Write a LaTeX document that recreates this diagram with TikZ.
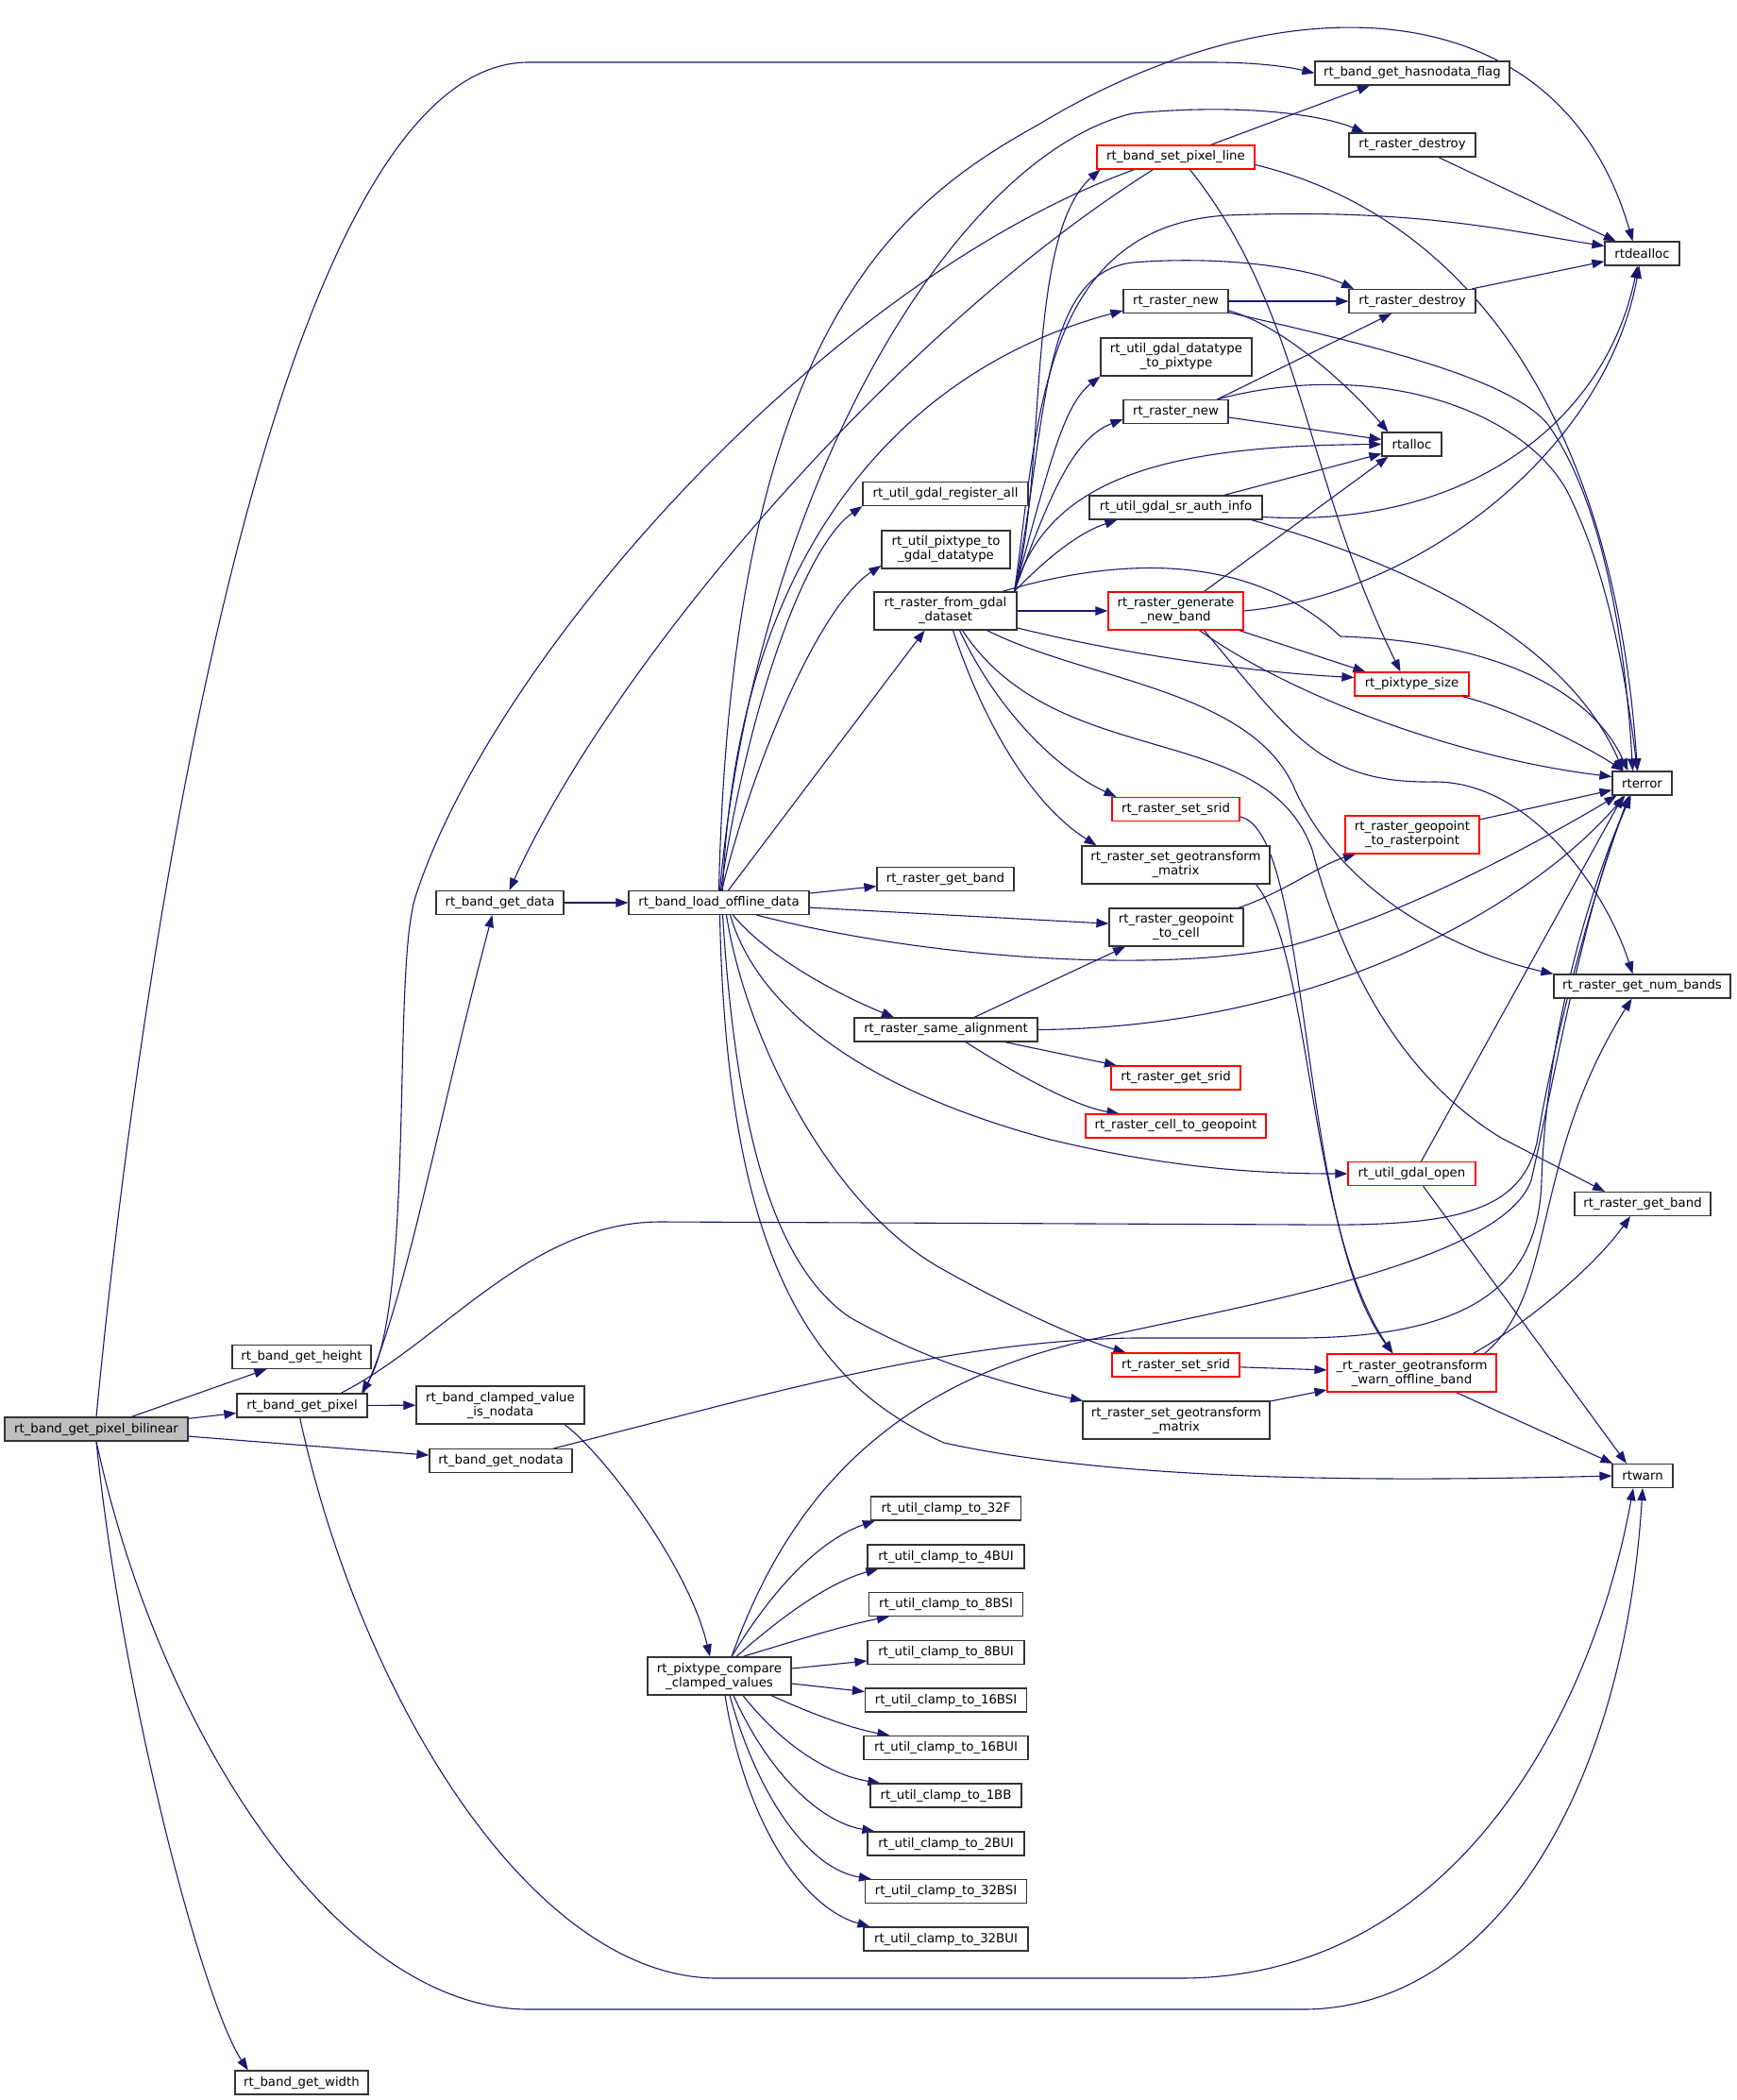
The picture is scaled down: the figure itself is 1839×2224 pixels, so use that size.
\documentclass[tikz,border=0pt]{standalone}
\usepackage{fontspec}
\setmainfont{DejaVu Sans}
\usetikzlibrary{arrows.meta,backgrounds}
\definecolor{edgeblue}{HTML}{191970}
\definecolor{rootgray}{HTML}{BFBFBF}
\tikzset{
  fn/.style={draw=black!80, line width=1.2pt, fill=white, inner sep=0pt,
    minimum height=25pt, align=center, font=\fontsize{13.3pt}{15pt}\selectfont},
  fntwo/.style={fn, minimum height=40pt},
  trunc/.style={draw=red},
  boxw/.style={minimum width=#1pt},
  call/.style={edgeblue, line width=1.1pt, -{Triangle[length=13pt,width=9.5pt]}},
}
\begin{document}
\begin{tikzpicture}[x=1pt,y=-1pt]
    \useasboundingbox (0,0) rectangle (1839,2224);
    %% first columns
    \node[fn, boxw=194, fill=rootgray] (bilin) at (102,1513.5) {rt\_band\_get\_pixel\_bilinear};
    \node[fn, boxw=147] (height) at (319.5,1437) {rt\_band\_get\_height};
    \node[fn, boxw=138] (pixel) at (320,1488.5) {rt\_band\_get\_pixel};
    \node[fn, boxw=141] (width) at (319.5,2205.5) {rt\_band\_get\_width};
    \node[fn, boxw=135] (getdata) at (529.5,956) {rt\_band\_get\_data};
    \node[fntwo, boxw=178] (clampnd) at (530,1488) {rt\_band\_clamped\_value\\\_is\_nodata};
    \node[fn, boxw=151] (nodata) at (530.5,1547) {rt\_band\_get\_nodata};
    \node[fn, boxw=191] (loadoff) at (761.5,956) {rt\_band\_load\_offline\_data};
    \node[fntwo, boxw=152] (compare) at (762,1775) {rt\_pixtype\_compare\\\_clamped\_values};
    %% middle column
    \node[fn, boxw=175] (regall) at (1001.5,523) {rt\_util\_gdal\_register\_all};
    \node[fntwo, boxw=136] (pix2gdal) at (1002,582) {rt\_util\_pixtype\_to\\\_gdal\_datatype};
    \node[fntwo, boxw=151] (fromgdal) at (1001.5,647) {rt\_raster\_from\_gdal\\\_dataset};
    \node[fn, boxw=145] (getbandA) at (1001.5,931) {rt\_raster\_get\_band};
    \node[fn, boxw=194] (samealign) at (1002,1090.5) {rt\_raster\_same\_alignment};
    \node[fn, boxw=159] (c32F) at (1002,1597.5) {rt\_util\_clamp\_to\_32F};
    \node[fn, boxw=166] (c4BUI) at (1002,1648.5) {rt\_util\_clamp\_to\_4BUI};
    \node[fn, boxw=163] (c8BSI) at (1002,1699) {rt\_util\_clamp\_to\_8BSI};
    \node[fn, boxw=166] (c8BUI) at (1002,1750) {rt\_util\_clamp\_to\_8BUI};
    \node[fn, boxw=171] (c16BSI) at (1002,1800.5) {rt\_util\_clamp\_to\_16BSI};
    \node[fn, boxw=174] (c16BUI) at (1002,1851) {rt\_util\_clamp\_to\_16BUI};
    \node[fn, boxw=160] (c1BB) at (1002,1901.5) {rt\_util\_clamp\_to\_1BB};
    \node[fn, boxw=166] (c2BUI) at (1002,1952.5) {rt\_util\_clamp\_to\_2BUI};
    \node[fn, boxw=171] (c32BSI) at (1002,2003) {rt\_util\_clamp\_to\_32BSI};
    \node[fn, boxw=174] (c32BUI) at (1002,2053.5) {rt\_util\_clamp\_to\_32BUI};
    %% raster column
    \node[fn, trunc, boxw=167] (setpix) at (1245.5,166.5) {rt\_band\_set\_pixel\_line};
    \node[fn, boxw=111] (newA) at (1245.5,319) {rt\_raster\_new};
    \node[fntwo, boxw=160] (gdal2pix) at (1246,378) {rt\_util\_gdal\_datatype\\\_to\_pixtype};
    \node[fn, boxw=111] (newB) at (1245.5,436) {rt\_raster\_new};
    \node[fn, boxw=183] (srauth) at (1245.5,537.5) {rt\_util\_gdal\_sr\_auth\_info};
    \node[fntwo, trunc, boxw=143] (genband) at (1245.5,647) {rt\_raster\_generate\\\_new\_band};
    \node[fn, trunc, boxw=135] (sridA) at (1245.5,857) {rt\_raster\_set\_srid};
    \node[fntwo, boxw=199] (geotrA) at (1245.5,916) {rt\_raster\_set\_geotransform\\\_matrix};
    \node[fntwo, boxw=142] (geo2cell) at (1246,982) {rt\_raster\_geopoint\\\_to\_cell};
    \node[fn, trunc, boxw=137] (getsrid) at (1245.5,1141.5) {rt\_raster\_get\_srid};
    \node[fn, trunc, boxw=191] (cell2geo) at (1245.5,1192.5) {rt\_raster\_cell\_to\_geopoint};
    \node[fn, trunc, boxw=135] (sridB) at (1245.5,1445.5) {rt\_raster\_set\_srid};
    \node[fntwo, boxw=198] (geotrB) at (1246,1504) {rt\_raster\_set\_geotransform\\\_matrix};
    %% right columns
    \node[fn, boxw=206] (hasnd) at (1496,77.5) {rt\_band\_get\_hasnodata\_flag};
    \node[fn, boxw=134] (destroyA) at (1496,153.5) {rt\_raster\_destroy};
    \node[fn, boxw=134] (destroyB) at (1496,319) {rt\_raster\_destroy};
    \node[fn, boxw=63] (rtalloc) at (1495.5,470.5) {rtalloc};
    \node[fn, trunc, boxw=121] (pixsize) at (1495.5,724.5) {rt\_pixtype\_size};
    \node[fntwo, trunc, boxw=142] (geo2rp) at (1496,884) {rt\_raster\_geopoint\\\_to\_rasterpoint};
    \node[fn, trunc, boxw=135] (gdalopen) at (1495.5,1243) {rt\_util\_gdal\_open};
    \node[fntwo, trunc, boxw=179] (warnoff) at (1495.5,1454) {\_rt\_raster\_geotransform\\\_warn\_offline\_band};
    \node[fn, boxw=79] (rtdealloc) at (1739.5,268.5) {rtdealloc};
    \node[fn, boxw=63] (rterror) at (1739.5,829.5) {rterror};
    \node[fn, boxw=187] (numbands) at (1739.5,1044.5) {rt\_raster\_get\_num\_bands};
    \node[fn, boxw=144] (getbandB) at (1740,1275) {rt\_raster\_get\_band};
    \node[fn, boxw=64] (rtwarn) at (1740,1563) {rtwarn};

    \begin{scope}[on background layer]
    %% bilinear
    \draw[call] (bilin.north) .. controls (150,1000) and (290,66) .. (560,66) -- (1280,66) .. controls (1340,66) and (1370,72) .. (hasnd.west);
    \draw[call] (bilin) -- (height);
    \draw[call] (bilin) -- (pixel);
    \draw[call] (bilin) -- (nodata);
    \draw[call] (bilin.south) .. controls (130,1800) and (215,2120) .. (width.167);
    \draw[call] (bilin.south) .. controls (170,1840) and (360,2128) .. (560,2128) -- (1380,2128) .. controls (1580,2128) and (1720,1900) .. (rtwarn.south);
    %% get_pixel
    \draw[call] (pixel) -- (clampnd);
    \draw[call] ([xshift=65pt]pixel.north) .. controls (430,1380) and (465,1180) .. ([xshift=-8pt]getdata.south);
    \draw[call] ([xshift=41pt]pixel.north) .. controls (470,1420) and (560,1294) .. (700,1294) -- (1380,1297) .. controls (1540,1299) and (1610,1285) .. (1628,1210) .. controls (1650,1080) and (1690,940) .. ([xshift=-14pt]rterror.south);
    \draw[call] (pixel.260) .. controls (380,1790) and (560,2095) .. (760,2095) -- (1250,2095) .. controls (1550,2095) and (1690,1800) .. ([xshift=-10pt]rtwarn.south);
    %% set_pixel_line
    \draw[call] ([xshift=-44pt]setpix.south) .. controls (870,300) and (520,700) .. (440,950) .. controls (415,1030) and (440,1380) .. ([xshift=63pt]pixel.north);
    \draw[call] ([xshift=-24pt]setpix.south) .. controls (950,350) and (650,700) .. ([xshift=10pt]getdata.north);
    \draw[call] ([xshift=37pt]setpix.north) -- ([xshift=-45pt]hasnd.south);
    \draw[call] ([xshift=15pt]setpix.south) .. controls (1380,330) and (1380,500) .. ([xshift=-12pt]pixsize.north);
    \draw[call] ([yshift=-8pt]setpix.east) .. controls (1560,230) and (1710,450) .. ([xshift=-5pt]rterror.north);
    %% load_offline_data
    \draw[call] (getdata) -- (loadoff);
    \draw[call] ([xshift=2pt]loadoff.north) .. controls (790,760) and (850,580) .. (regall.south west);
    \draw[call] ([xshift=3pt]loadoff.north) .. controls (800,800) and (870,640) .. ([yshift=-17pt]pix2gdal.west);
    \draw[call] ([xshift=10pt]loadoff.north) -- ([xshift=-22pt]fromgdal.south);
    \draw[call] ([xshift=4pt]loadoff.north) .. controls (780,580) and (960,390) .. ([yshift=-10pt]newA.west);
    \draw[call] ([xshift=1pt]loadoff.north) .. controls (800,520) and (1010,165) .. (1200,120) .. controls (1330,108) and (1410,125) .. ([xshift=-51pt]destroyA.north);
    \draw[call] (loadoff.north) .. controls (775,350) and (950,215) .. (1100,132) .. controls (1350,-20) and (1650,-20) .. ([xshift=-10pt]rtdealloc.north);
    \draw[call] (loadoff) -- (getbandA);
    \draw[call] (loadoff) -- (geo2cell);
    \draw[call] ([xshift=40pt]loadoff.south) .. controls (1000,1020) and (1250,1030) .. (1369,1001) .. controls (1500,965) and (1650,880) .. ([xshift=-27pt]rterror.south);
    \draw[call] ([xshift=15pt]loadoff.south) .. controls (810,1010) and (880,1050) .. ([xshift=-55pt]samealign.north);
    \draw[call] ([xshift=12pt]loadoff.south) .. controls (800,1060) and (900,1150) .. (1113,1207) .. controls (1250,1240) and (1350,1243) .. (gdalopen.west);
    \draw[call] ([xshift=8pt]loadoff.south) .. controls (790,1100) and (880,1280) .. (1000,1345) .. controls (1080,1390) and (1150,1420) .. ([xshift=-53pt]sridB.north);
    \draw[call] ([xshift=4pt]loadoff.south) .. controls (780,1200) and (820,1340) .. (900,1395) .. controls (980,1440) and (1060,1465) .. ([xshift=-99pt]geotrB.north);
    \draw[call] ([xshift=1pt]loadoff.south) .. controls (770,1350) and (870,1470) .. (1000,1528) .. controls (1200,1572) and (1500,1568) .. (rtwarn.west);
    %% from_gdal_dataset
    \draw[call] (fromgdal) -- (genband);
    \draw[call] ([xshift=73pt]fromgdal.north) .. controls (1110,500) and (1085,250) .. ([xshift=-80pt]setpix.south);
    \draw[call] ([xshift=73pt]fromgdal.north) .. controls (1100,450) and (1100,240) .. (1300,228) .. controls (1500,220) and (1600,245) .. ([yshift=8pt]rtdealloc.west);
    \draw[call] ([xshift=73pt]fromgdal.north) .. controls (1110,450) and (1100,290) .. (1200,278) .. controls (1300,270) and (1390,285) .. ([xshift=-62pt]destroyB.north);
    \draw[call] ([xshift=73pt]fromgdal.north) .. controls (1110,500) and (1125,430) .. (gdal2pix.south west);
    \draw[call] ([xshift=73pt]fromgdal.north) .. controls (1110,530) and (1135,465) .. ([yshift=-8pt]newB.west);
    \draw[call] ([xshift=73pt]fromgdal.north) .. controls (1105,595) and (1140,565) .. ([xshift=30pt]srauth.south west);
    \draw[call] ([xshift=73pt]fromgdal.north) .. controls (1110,500) and (1250,472) .. (rtalloc.west);
    \draw[call] ([xshift=60pt]fromgdal.north) .. controls (1220,580) and (1340,600) .. (1420,674) .. controls (1600,680) and (1690,740) .. ([xshift=-15pt]rterror.north);
    \draw[call] ([yshift=-18pt]fromgdal.east) .. controls (1200,695) and (1330,712) .. ([yshift=7pt]pixsize.west);
    \draw[call] ([xshift=15pt]fromgdal.south) .. controls (1050,740) and (1110,810) .. ([xshift=-63pt]sridA.north);
    \draw[call] ([xshift=8pt]fromgdal.south) .. controls (1040,760) and (1090,850) .. ([xshift=-84pt]geotrA.north);
    \draw[call] ([xshift=44pt]fromgdal.south) .. controls (1150,720) and (1320,730) .. (1369,830) .. controls (1420,950) and (1550,1010) .. (numbands.north west);
    \draw[call] ([xshift=18pt]fromgdal.south) .. controls (1120,820) and (1340,760) .. (1390,900) .. controls (1430,1050) and (1500,1150) .. (1590,1205) -- ([xshift=-40pt]getbandB.north);
    %% raster_new, sr_auth_info, generate_new_band
    \draw[call] (newA) -- (destroyB);
    \draw[call] ([yshift=-10pt]newA.east) .. controls (1360,345) and (1430,410) .. ([xshift=-25pt]rtalloc.north);
    \draw[call] ([yshift=-12pt]newA.east) .. controls (1450,365) and (1600,400) .. (1640,450) .. controls (1690,520) and (1720,650) .. ([xshift=-10pt]rterror.north);
    \draw[call] ([xshift=44pt]newB.north) -- ([xshift=-22pt]destroyB.south);
    \draw[call] ([yshift=-6pt]newB.east) -- ([yshift=5pt]rtalloc.west);
    \draw[call] ([xshift=44pt]newB.north) .. controls (1450,380) and (1610,430) .. (1660,520) .. controls (1700,600) and (1720,700) .. ([xshift=-5pt]rterror.north);
    \draw[call] ([xshift=51pt]srauth.north) -- ([yshift=-10pt]rtalloc.west);
    \draw[call] ([yshift=-10pt]srauth.east) .. controls (1550,560) and (1700,450) .. ([xshift=-5pt]rtdealloc.south);
    \draw[call] ([xshift=80pt]srauth.south) .. controls (1500,600) and (1660,680) .. ([xshift=-20pt]rterror.north);
    \draw[call] ([xshift=30pt]genband.north) -- ([xshift=-25pt]rtalloc.south);
    \draw[call] (genband.east) .. controls (1500,630) and (1700,480) .. ([xshift=-3pt]rtdealloc.south);
    \draw[call] ([xshift=-5pt]genband.south east) -- ([xshift=12pt]pixsize.north west);
    \draw[call] ([xshift=25pt]genband.south) .. controls (1380,745) and (1560,805) .. ([yshift=7pt]rterror.west);
    \draw[call] ([xshift=30pt]genband.south) .. controls (1370,780) and (1400,830) .. (1520,828) .. controls (1620,828) and (1700,940) .. ([xshift=-10pt]numbands.north);
    \draw[call] (pixsize) .. controls (1600,750) and (1680,790) .. (rterror);
    \draw[call] (destroyA) -- (rtdealloc);
    \draw[call] (destroyB) -- (rtdealloc);
    %% geopoint, alignment
    \draw[call] ([xshift=66pt]geo2cell.north) .. controls (1360,945) and (1400,915) .. ([xshift=-60pt]geo2rp.south);
    \draw[call] (geo2rp) -- (rterror);
    \draw[call] (samealign) -- (getsrid);
    \draw[call] ([xshift=21pt]samealign.south) .. controls (1080,1140) and (1140,1172) .. ([xshift=-60pt]cell2geo.north);
    \draw[call] ([xshift=30pt]samealign.north) -- ([xshift=-54pt]geo2cell.south);
    \draw[call] (samealign.east) .. controls (1400,1088) and (1620,960) .. ([xshift=-18pt]rterror.south);
    %% warn offline band
    \draw[call] ([yshift=-8pt]sridA.east) .. controls (1390,880) and (1375,1300) .. ([xshift=-20pt]warnoff.north);
    \draw[call] ([xshift=85pt]geotrA.south) .. controls (1390,1010) and (1385,1300) .. ([xshift=-20pt]warnoff.north);
    \draw[call] (sridB) -- (warnoff);
    \draw[call] (geotrB) -- (warnoff);
    \draw[call] ([xshift=47pt]warnoff.south) -- ([xshift=1pt]rtwarn.north west);
    \draw[call] ([xshift=65pt]warnoff.north) .. controls (1620,1400) and (1690,1340) .. ([xshift=-13pt]getbandB.south);
    \draw[call] ([xshift=77pt]warnoff.north) .. controls (1650,1370) and (1620,1230) .. ([xshift=-11pt]numbands.south);
    \draw[call] ([xshift=12pt]gdalopen.south) -- ([xshift=-17pt]rtwarn.north);
    \draw[call] ([xshift=10pt]gdalopen.north) -- ([xshift=-20pt]rterror.south);
    %% nodata, clamped values
    \draw[call] ([xshift=56pt]nodata.north) .. controls (800,1480) and (1000,1420) .. (1200,1417) -- (1380,1417) .. controls (1560,1415) and (1630,1360) .. (1633,1250) .. controls (1638,1100) and (1680,950) .. ([xshift=-12pt]rterror.south);
    \draw[call] ([xshift=68pt]clampnd.south) .. controls (640,1540) and (730,1660) .. ([xshift=-10pt]compare.north);
    \draw[call] ([xshift=13pt]compare.north) .. controls (830,1600) and (930,1470) .. (1150,1420) .. controls (1300,1385) and (1590,1340) .. (1622,1250) .. controls (1645,1150) and (1680,950) .. ([xshift=-12pt]rterror.south);
    \draw[call] ([xshift=13pt]compare.north) .. controls (820,1680) and (870,1630) .. ([xshift=5pt]c32F.south west);
    \draw[call] ([xshift=18pt]compare.north) .. controls (830,1710) and (880,1675) .. ([xshift=12pt]c4BUI.south west);
    \draw[call] ([xshift=25pt]compare.north) .. controls (850,1735) and (900,1720) .. ([xshift=22pt]c8BSI.south west);
    \draw[call] ([yshift=8pt]compare.east) -- ([yshift=-9pt]c8BUI.west);
    \draw[call] ([yshift=-8pt]compare.east) -- ([yshift=9pt]c16BSI.west);
    \draw[call] ([xshift=55pt]compare.south) .. controls (860,1815) and (900,1830) .. ([xshift=28pt]c16BUI.north west);
    \draw[call] ([xshift=25pt]compare.south) .. controls (830,1850) and (880,1880) .. ([xshift=11pt]c1BB.north west);
    \draw[call] ([xshift=15pt]compare.south) .. controls (815,1880) and (870,1930) .. ([xshift=8pt]c2BUI.north west);
    \draw[call] ([xshift=11pt]compare.south) .. controls (805,1910) and (860,1980) .. ([xshift=7pt]c32BSI.north west);
    \draw[call] ([xshift=6pt]compare.south) .. controls (790,1930) and (850,2020) .. ([xshift=7pt]c32BUI.north west);
    \end{scope}
\end{tikzpicture}
\end{document}
